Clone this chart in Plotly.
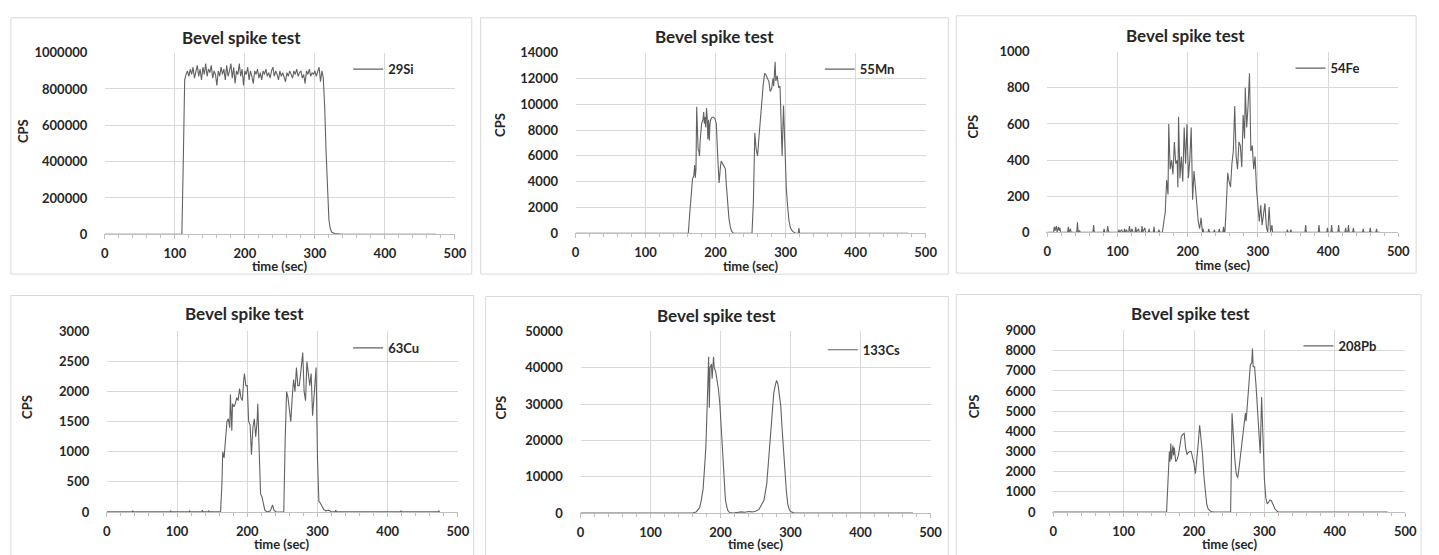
import plotly.graph_objects as go

# ---------------- data ----------------
si_time = [0, 110, 112, 114,
           116, 118, 120, 122, 124, 126, 128, 130, 132, 134,
           136, 138, 140, 142, 144, 146, 148, 150, 152, 154,
           156, 158, 160, 162, 164, 166, 168, 170, 172, 174,
           176, 178, 180, 182, 184, 186, 188, 190, 192, 194,
           196, 198, 200, 202, 204, 206, 208, 210, 212, 214,
           216, 218, 220, 222, 224, 226, 228, 230, 232, 234,
           236, 238, 240, 242, 244, 246, 248, 250, 252, 254,
           256, 258, 260, 262, 264, 266, 268, 270, 272, 274,
           276, 278, 280, 282, 284, 286, 288, 290, 292, 294,
           296, 298, 300, 302, 304, 306, 308, 310,
           312, 314, 316, 318, 320, 322, 324, 328, 334, 340, 473]
si_cps = [0, 0, 400000, 850000,
          880000, 900000, 870000, 910000, 880000, 920000, 860000, 900000, 930000, 870000,
          910000, 850000, 920000, 880000, 940000, 870000, 910000, 890000, 930000, 860000,
          900000, 880000, 820000, 900000, 870000, 920000, 880000, 910000, 850000, 930000,
          870000, 900000, 940000, 860000, 920000, 830000, 900000, 880000, 940000, 870000,
          910000, 820000, 900000, 880000, 920000, 850000, 900000, 870000, 830000, 900000,
          880000, 910000, 860000, 890000, 850000, 900000, 880000, 910000, 870000, 890000,
          860000, 900000, 920000, 870000, 900000, 880000, 850000, 900000, 870000, 890000,
          860000, 840000, 890000, 870000, 900000, 880000, 860000, 900000, 880000, 910000,
          870000, 890000, 900000, 860000, 880000, 830000, 900000, 880000, 910000, 870000,
          890000, 880000, 900000, 870000, 890000, 920000, 840000, 900000,
          860000, 700000, 450000, 200000, 80000, 30000, 12000, 4000, 1000, 0, 0]

mn_time = [0, 161, 163, 165, 167, 169,
           170, 171, 172, 173, 174, 175, 176, 177, 178,
           180, 182, 183, 184, 185, 186, 187, 188, 189, 190, 191, 192, 193,
           195, 197, 199, 201, 203, 205, 207, 208, 210, 212, 214, 215, 217, 219, 221, 223, 226,
           252, 254, 256, 258, 260, 262, 264, 266, 268, 270,
           272, 274, 276, 278, 280, 282, 283, 285, 286, 288,
           290, 292, 294, 295, 297, 299, 301, 303, 305, 307,
           310, 314, 318, 319, 320, 475]
mn_cps = [0, 0, 1500, 3000, 4200, 4500,
          5300, 4300, 5000, 9800, 8000, 6500, 6400, 6000, 7200,
          8500, 8800, 9400, 8500, 9000, 8200, 9700, 9000, 7300, 8800, 7200, 8500, 8800,
          9000, 9000, 8900, 8500, 6000, 3900, 5200, 5600, 5400, 5200, 5000, 4000, 2500, 1200, 500, 150, 0,
          0, 2500, 7800, 6500, 6000, 7500, 9000, 10500, 11500, 12400,
          12300, 12000, 11800, 11000, 11200, 12000, 11400, 13300, 11800, 12200,
          11300, 11400, 8000, 6000, 9900, 6000, 3500, 2000, 900, 400,
          150, 0, 0, 400, 0, 0]

fe_time = [0, 9, 10, 11, 13, 14, 16, 17, 18, 19,
           29, 30, 31, 33, 34, 42, 43, 44, 46, 47,
           65, 66, 67, 80, 81, 82, 85, 86, 87, 88,
           101, 102, 103, 106, 107, 109, 110, 111, 113, 114,
           116, 117, 118, 119, 121, 122, 125, 126, 127, 130,
           131, 134, 135, 136, 139, 140, 144, 145, 146, 151,
           152, 153, 158, 159, 160,
           164, 166, 168, 170, 172, 173, 175, 177, 179, 181,
           183, 185, 186, 187, 189, 191, 193, 195, 197, 199,
           201, 203, 205, 207, 209, 211, 213, 215, 217, 219,
           221,
           222, 223, 229, 230, 231, 237, 238, 239, 244, 245,
           246, 250, 251, 252,
           253, 255, 257, 259, 261, 263, 265, 267, 269, 271,
           273, 275, 277, 279, 281, 282, 284, 286, 288, 290,
           292, 294, 296, 298, 300, 302, 304, 306, 308, 310,
           312, 314, 316, 318, 320, 321,
           341, 342, 343, 346, 347, 348, 367, 368, 369, 386,
           387, 388, 398, 399, 400, 404, 405, 406, 414, 415,
           416, 424, 425, 426, 428, 429, 430, 435, 436, 437,
           449, 450, 451, 459, 460, 461, 468, 469, 470, 474]
fe_cps = [0, 0, 30, 10, 35, 0, 30, 10, 25, 0,
          0, 30, 0, 20, 0, 0, 55, 0, 10, 0,
          0, 40, 0, 0, 20, 0, 0, 35, 10, 0,
          0, 15, 0, 15, 0, 0, 20, 0, 15, 0,
          0, 35, 10, 0, 20, 0, 0, 30, 0, 20,
          0, 0, 35, 0, 25, 0, 0, 20, 0, 0,
          30, 0, 0, 15, 0,
          0, 60, 110, 290, 210, 600, 350, 400, 320, 500,
          380, 400, 250, 640, 300, 420, 280, 580, 380, 600,
          300, 400, 580, 180, 340, 250, 120, 60, 20, 80,
          0,
          20, 0, 0, 20, 0, 0, 15, 0, 0, 20,
          0, 0, 30, 0,
          0, 150, 330, 280, 250, 380, 450, 700, 420, 350,
          500, 480, 360, 650, 520, 800, 580, 700, 880, 450,
          480, 350, 420, 240, 150, 60, 150, 40, 100, 160,
          30, 0, 140, 0, 40, 0,
          0, 15, 0, 0, 15, 0, 0, 40, 0, 0,
          40, 0, 0, 25, 0, 0, 40, 0, 0, 40,
          0, 0, 25, 0, 0, 40, 0, 0, 25, 0,
          0, 20, 0, 0, 25, 0, 0, 20, 0, 0]

cu_time = [0, 20, 36, 37, 38, 60, 90, 91, 92, 117,
           118, 119, 135, 136, 137, 144, 145, 146, 150, 151,
           152, 160, 162,
           164, 165, 167, 169, 171, 173, 175, 176, 178, 179,
           181, 183, 185, 187, 189, 191, 193, 195, 196, 198,
           200, 202, 204, 206, 208, 210, 212, 214, 215, 217,
           219, 221, 223, 225, 228, 233, 236, 238, 241, 252,
           254, 256, 258, 260, 262, 264, 266, 268, 270, 272,
           274, 276, 278, 279, 281, 283, 285, 287, 289, 291,
           293, 295, 297, 298, 300, 302, 304, 306, 309, 312,
           316, 320, 325, 326, 327, 330, 418, 419, 420, 472,
           473, 474]
cu_cps = [5, 5, 5, 20, 5, 5, 5, 20, 5, 5,
          20, 5, 5, 30, 5, 5, 20, 5, 5, 15,
          5, 5, 5,
          500, 1000, 900, 1200, 1500, 1550, 1400, 1950, 1350, 1800,
          1750, 1800, 1900, 1850, 2050, 1900, 1850, 2200, 2300, 2100,
          2100, 1500, 1450, 950, 1400, 1550, 1250, 1500, 1800, 1000,
          300, 250, 100, 30, 0, 20, 120, 30, 0, 0,
          1200, 2000, 1900, 1700, 1500, 1900, 2200, 2000, 2400, 2100,
          2100, 2300, 2500, 2650, 2000, 1850, 2500, 2300, 2100, 2300,
          1600, 1900, 2200, 2400, 900, 180, 150, 100, 40, 20,
          30, 5, 5, 30, 5, 5, 5, 20, 5, 5,
          20, 5]

cs_time = [0, 160, 165, 170, 172, 175, 177, 179, 181, 183,
           184, 185, 187, 188, 190, 191, 193, 195, 197, 199,
           201, 203, 205, 207, 210, 213, 218, 230, 235, 240,
           245, 250, 255, 258, 262, 266, 268, 270, 272, 274,
           276, 278, 280, 282, 284, 286, 288, 290, 292, 294,
           296, 298, 300, 305, 475]
cs_cps = [0, 0, 300, 1400, 3000, 6500, 12000, 18000, 30000, 43000,
          29000, 40000, 41000, 37000, 43000, 40000, 39000, 37000, 34000, 30000,
          23000, 15500, 8000, 3500, 800, 100, 0, 300, 200, 400,
          300, 500, 1000, 2000, 3500, 8000, 13000, 18000, 22000, 28000,
          33000, 35000, 36500, 35500, 33000, 29500, 23000, 17000, 12000, 6000,
          2500, 1000, 400, 0, 0]

pb_time = [0, 161, 163, 165, 166, 167, 168, 169, 170, 171,
           172, 174, 176, 178, 180, 182, 184, 186, 188, 190,
           192, 194, 196, 198, 200, 202, 204, 206, 208, 210,
           212, 214, 216, 218, 220, 224, 228, 252, 254, 256,
           258, 260, 262, 264, 266, 268, 270, 272, 273, 274,
           276, 278, 280, 282, 283, 284, 286, 288, 290, 292,
           294, 296, 298, 300, 302, 304, 306, 308, 310, 312,
           315, 318, 320, 475]
pb_cps = [0, 0, 1500, 3000, 2500, 3400, 2600, 3000, 3300, 2800,
          3200, 2500, 2600, 2850, 3300, 3750, 3850, 3900, 3200, 2850,
          2950, 3000, 3000, 2700, 2400, 1900, 2500, 3400, 4300, 3700,
          2900, 1800, 1000, 400, 150, 30, 0, 0, 4900, 3500,
          2600, 1900, 1700, 2200, 2800, 3500, 4000, 4700, 4900, 4500,
          5500, 6800, 7300, 7400, 8100, 7200, 7200, 6300, 5000, 3700,
          2900, 5700, 3200, 1600, 700, 400, 500, 600, 550, 400,
          150, 40, 0, 0]

series_names = ["29Si", "55Mn", "54Fe", "63Cu", "133Cs", "208Pb"]
series_time = [si_time, mn_time, fe_time, cu_time, cs_time, pb_time]
series_cps = [si_cps, mn_cps, fe_cps, cu_cps, cs_cps, pb_cps]
y_max = [1000000, 14000, 1000, 3000, 50000, 9000]
y_step = [200000, 2000, 200, 500, 10000, 1000]
x_ticks = [0, 100, 200, 300, 400, 500]
chart_title = "Bevel spike test"
x_title = "time (sec)"
y_title = "CPS"

for t, v in zip(series_time, series_cps):
    if len(t) != len(v):
        raise ValueError(f"length mismatch {len(t)} vs {len(v)}")

# ---------------- layout (pixel geometry) ----------------
W, H = 1439, 555
geom = [
    dict(box=(7, 10, 473, 274), plot=(102, 46, 456, 233), title=(240, 30), cps=(20, 127), xlab=(279, 266), leg=(388, 63)),
    dict(box=(482, 10, 955, 274), plot=(578, 46, 932, 232), title=(718, 29), cps=(501, 120), xlab=(755, 266), leg=(865, 63)),
    dict(box=(963, 8, 1428, 273), plot=(1055, 45, 1410, 231), title=(1195, 28), cps=(980, 122), xlab=(1232, 265), leg=(1341, 62)),
    dict(box=(7, 296, 475, 620), plot=(104, 333, 459, 519), title=(243, 315), cps=(23, 411), xlab=(281, 552), leg=(388, 350)),
    dict(box=(487, 297, 955, 620), plot=(583, 333, 937, 520), title=(721, 317), cps=(503, 411), xlab=(760, 552), leg=(868, 352)),
    dict(box=(963, 295, 1433, 620), plot=(1061, 332, 1417, 519), title=(1200, 315), cps=(981, 410), xlab=(1239, 552), leg=(1349, 348)),
]

FONT = "Lato, 'Open Sans', sans-serif"
TXT = "#262626"
GRID = "#d9d9d9"
AXIS = "#bfbfbf"
LINE = "#626262"


def px(x):
    return x / W


def py(y):
    return 1 - y / H


fig = go.Figure()
layout = dict(
    width=W, height=H, margin=dict(l=0, r=0, t=0, b=0),
    paper_bgcolor="white", plot_bgcolor="white",
    font=dict(family=FONT, color=TXT, size=13),
    showlegend=True,
)
annotations = []
shapes = []

for i in range(6):
    n = "" if i == 0 else str(i + 1)
    g = geom[i]
    leg_name = "legend" if i == 0 else f"legend{i + 1}"
    fig.add_trace(go.Scatter(
        x=series_time[i], y=series_cps[i], mode="lines", name=series_names[i],
        line=dict(color=LINE, width=1.1), xaxis=f"x{n}", yaxis=f"y{n}",
        legend=leg_name, hoverinfo="skip",
    ))
    px0, py0, px1, py1 = g["plot"]
    layout[f"xaxis{n}"] = dict(
        domain=[px(px0), px(px1)], range=[0, 500], anchor=f"y{n}",
        tickvals=x_ticks, showgrid=True, gridcolor=GRID, gridwidth=1,
        showline=True, linecolor=AXIS, linewidth=1,
        ticks="outside", ticklen=4, tickcolor=AXIS,
        minor=dict(dtick=20, tick0=0, ticks="outside", ticklen=3, tickcolor=AXIS, showgrid=False),
        zeroline=False, ticklabelstandoff=3,
        tickfont=dict(family=FONT, size=13, color=TXT, weight="bold"),
        fixedrange=True,
    )
    layout[f"yaxis{n}"] = dict(
        domain=[py(py1), py(py0)], range=[0, y_max[i]], anchor=f"x{n}",
        dtick=y_step[i], tick0=0, tickformat="d",
        showgrid=True, gridcolor=GRID, gridwidth=1,
        showline=True, linecolor="rgba(0,0,0,0)", zeroline=False,
        ticks="", ticklabelstandoff=14,
        tickfont=dict(family=FONT, size=13, color=TXT, weight="bold"),
        fixedrange=True,
    )
    lx, ly = g["leg"]
    layout[leg_name] = dict(
        x=px(lx - 40), y=py(ly), xanchor="left", yanchor="middle",
        bgcolor="rgba(0,0,0,0)", borderwidth=0,
        font=dict(family=FONT, size=13, color=TXT, weight="bold"),
        itemclick=False, itemdoubleclick=False,
    )
    bx0, by0, bx1, by1 = g["box"]
    shapes.append(dict(type="rect", xref="paper", yref="paper",
                       x0=px(bx0), x1=px(bx1), y0=py(by1), y1=py(by0),
                       line=dict(color=GRID, width=1), fillcolor="rgba(0,0,0,0)", layer="below"))
    tx, ty = g["title"]
    annotations.append(dict(text=f"<b>{chart_title}</b>", x=px(tx), y=py(ty), xref="paper", yref="paper",
                            xanchor="center", yanchor="middle", showarrow=False,
                            font=dict(family=FONT, size=17, color=TXT)))
    cx, cy = g["cps"]
    annotations.append(dict(text=f"<b>{y_title}</b>", x=px(cx), y=py(cy), xref="paper", yref="paper",
                            xanchor="center", yanchor="middle", showarrow=False, textangle=-90,
                            font=dict(family=FONT, size=13, color=TXT)))
    xx, xy = g["xlab"]
    annotations.append(dict(text=f"<b>{x_title}</b>", x=px(xx), y=py(xy), xref="paper", yref="paper",
                            xanchor="center", yanchor="middle", showarrow=False,
                            font=dict(family=FONT, size=13, color=TXT)))

layout["annotations"] = annotations
layout["shapes"] = shapes
fig.update_layout(**layout)

page_fix = ("document.documentElement.style.margin='0';document.documentElement.style.overflow='hidden';"
            "document.body.style.margin='0';document.body.style.padding='0';document.body.style.overflow='hidden';")
fig.write_html("out.html", include_plotlyjs=True, post_script=page_fix,
               config={"displayModeBar": False, "staticPlot": True})
